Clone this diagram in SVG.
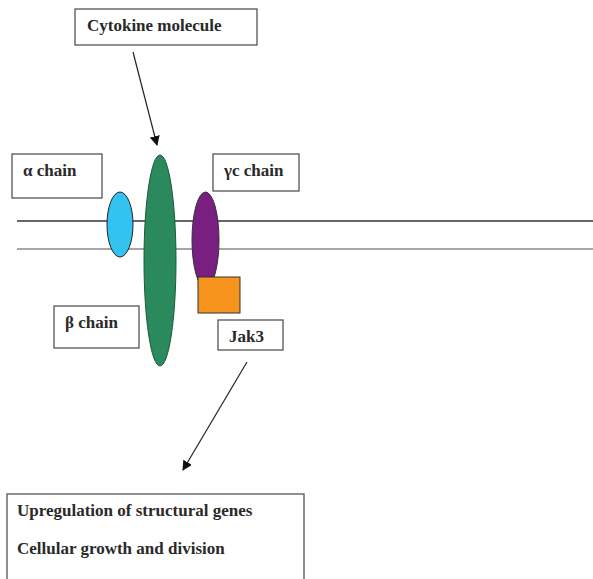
<svg xmlns="http://www.w3.org/2000/svg" width="593" height="579" viewBox="0 0 593 579">
<style>
.box{fill:#fff;stroke:#555;stroke-width:1.3}
.t{font-family:"Liberation Serif","Times New Roman",serif;font-weight:bold;font-size:17px;fill:#2a2a2a}
.conn{stroke:#222;stroke-width:1.2;fill:none}
</style>
<defs>
<marker id="ah" viewBox="0 0 10 10" refX="9" refY="5" markerWidth="10" markerHeight="10" markerUnits="userSpaceOnUse" orient="auto">
<path d="M0,0 L10,5 L0,10 z" fill="#111"/>
</marker>
</defs>
<rect width="593" height="579" fill="#fff"/>
<g id="membrane">
<line x1="17" y1="221" x2="593" y2="221" stroke="#333" stroke-width="1.3"/>
<line x1="17" y1="249" x2="593" y2="249" stroke="#888" stroke-width="1.3"/>
</g>
<g id="alpha-subunit"><ellipse cx="120" cy="224.5" rx="13" ry="32.5" fill="#33c3f0" stroke="#222" stroke-width="1"/></g>
<g id="beta-subunit"><ellipse cx="160" cy="260.5" rx="16" ry="105.5" fill="#2a8a5e" stroke="#1a5a3a" stroke-width="1"/></g>
<g id="gamma-subunit"><ellipse cx="205.5" cy="240" rx="13.5" ry="48" fill="#7a1f82" stroke="#333" stroke-width="1"/></g>
<g id="jak3-block"><rect x="198" y="277" width="42" height="36" fill="#f7941d" stroke="#333" stroke-width="1"/></g>
<g id="cytokine"><rect class="box" x="75" y="9" width="182" height="36"/><text class="t" x="87" y="31">Cytokine molecule</text></g>
<g id="alpha-label"><rect class="box" x="12" y="154" width="90" height="44"/><text class="t" x="23" y="176">α chain</text></g>
<g id="gamma-label"><rect class="box" x="213" y="154" width="86" height="37"/><text class="t" x="224" y="176">γc chain</text></g>
<g id="beta-label"><rect class="box" x="54" y="306" width="85" height="42"/><text class="t" x="65" y="328">β chain</text></g>
<g id="jak3-label"><rect class="box" x="218" y="320" width="65" height="30"/><text class="t" x="229" y="342">Jak3</text></g>
<g id="outcome"><rect class="box" x="7" y="494" width="297" height="90"/>
<text class="t" x="17" y="516">Upregulation of structural genes</text>
<text class="t" x="17" y="554">Cellular growth and division</text></g>
<g id="connectors">
<line class="conn" x1="133" y1="52" x2="157" y2="145" marker-end="url(#ah)"/>
<line class="conn" x1="247" y1="362" x2="183" y2="470" marker-end="url(#ah)"/>
</g>
</svg>
